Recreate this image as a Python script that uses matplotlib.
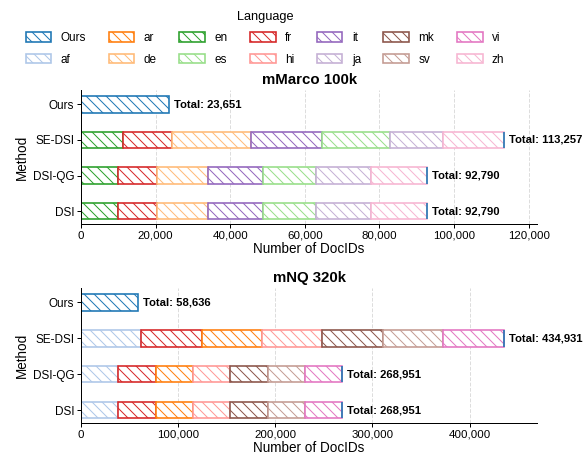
import matplotlib.pyplot as plt
from matplotlib.patches import Patch

plt.rcParams['font.family'] = ['Liberation Sans', 'DejaVu Sans']
plt.rcParams['hatch.linewidth'] = 0.8

DPI = 90
METHODS = ["DSI", "DSI-QG", "SE-DSI", "Ours"]
LANGS = ["Ours", "af", "ar", "de", "en", "es", "fr", "hi", "it", "ja", "mk", "sv", "vi", "zh"]
COLORS = dict(zip(LANGS, plt.get_cmap("tab20").colors))

# mMarco 100k: per-language DocID counts, stacked in this order
MARCO_ORDER = ["en", "fr", "de", "it", "es", "ja", "zh"]
MARCO_DSI = [10000, 10400, 13700, 14600, 14250, 14750, 15090]
MARCO_DSI_QG = [10000, 10400, 13700, 14600, 14250, 14750, 15090]
MARCO_SE_DSI = [11300, 13200, 21000, 19000, 18300, 14200, 16257]
MARCO_OURS = 23651
MARCO_TOTALS = [92790, 92790, 113257, 23651]

# mNQ 320k
NQ_ORDER = ["af", "fr", "ar", "hi", "mk", "sv", "vi"]
NQ_DSI = [38400, 38600, 38100, 38400, 39400, 37800, 38251]
NQ_DSI_QG = [38400, 38600, 38100, 38400, 39400, 37800, 38251]
NQ_SE_DSI = [61800, 62800, 61800, 61500, 62500, 61800, 62731]
NQ_OURS = 58636
NQ_TOTALS = [268951, 268951, 434931, 58636]

HATCH = "\\\\\\"
BAR_H = 0.46


def draw_panel(ax, title, order, stacks, ours, totals):
    for yi, vals in enumerate(stacks):
        left = 0
        for lang, v in zip(order, vals):
            ax.barh(yi, v, left=left, height=BAR_H, color="white",
                    edgecolor=COLORS[lang], hatch=HATCH, linewidth=1.3)
            left += v
        # empty "Ours" segment closes each stacked bar
        ax.barh(yi, 0, left=left, height=BAR_H, color="white",
                edgecolor=COLORS["Ours"], linewidth=1.3)
    ax.barh(3, ours, height=BAR_H, color="white", edgecolor=COLORS["Ours"],
            hatch=HATCH, linewidth=1.3)
    xmax = max(totals)
    for yi, tot in enumerate(totals):
        ax.text(tot + xmax * 0.012, yi, f"Total: {tot:,}", va="center", ha="left",
                fontsize=9, fontweight="bold")
    ax.set_xlim(0, xmax * 1.08)
    ax.set_ylim(-0.36, 3.4)
    ax.set_yticks(range(4))
    ax.set_yticklabels(METHODS, fontsize=9.4)
    ax.xaxis.set_major_formatter(plt.FuncFormatter(lambda x, p: f"{int(x):,}"))
    ax.tick_params(axis="x", labelsize=9.2, length=3.5, pad=2)
    ax.tick_params(axis="y", length=3.5, pad=2)
    ax.set_xlabel("Number of DocIDs", fontsize=10.8, labelpad=1)
    ax.set_ylabel("Method", fontsize=10.8, labelpad=3)
    ax.set_title(title, fontsize=12, fontweight="bold", pad=5)
    ax.grid(axis="x", linestyle="--", color="#dddddd", linewidth=0.8)
    ax.set_axisbelow(True)
    for s in ["top", "right"]:
        ax.spines[s].set_visible(False)


fig = plt.figure(figsize=(585 / DPI, 454 / DPI), dpi=DPI)
ax1 = fig.add_axes([0.1385, 0.5066, 0.78, 0.295])
ax2 = fig.add_axes([0.1385, 0.0683, 0.78, 0.297])

draw_panel(ax1, "mMarco 100k", MARCO_ORDER, [MARCO_DSI, MARCO_DSI_QG, MARCO_SE_DSI],
           MARCO_OURS, MARCO_TOTALS)
draw_panel(ax2, "mNQ 320k", NQ_ORDER, [NQ_DSI, NQ_DSI_QG, NQ_SE_DSI],
           NQ_OURS, NQ_TOTALS)

handles = [Patch(facecolor="white", edgecolor=COLORS[l], hatch=HATCH, linewidth=1.3, label=l)
           for l in LANGS]
fig.legend(handles=handles, title="Language", ncol=7, loc="upper center",
           bbox_to_anchor=(265 / 585, 1.0), frameon=False, fontsize=9.4, title_fontsize=10.2,
           handlelength=2.2, handleheight=0.85, columnspacing=1.9, handletextpad=0.8,
           labelspacing=0.82, borderpad=0.4)

fig.savefig("out.png", dpi=DPI)
